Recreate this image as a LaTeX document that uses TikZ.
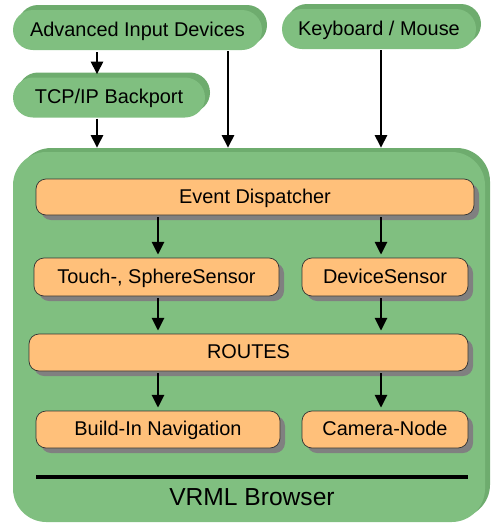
\documentclass[tikz,border=0pt]{standalone}
\usepackage{fontspec}
\setmainfont{Liberation Sans}
\usetikzlibrary{arrows.meta,shadows}
\definecolor{boxgreen}{RGB}{128,191,128}
\definecolor{backgreen}{RGB}{110,172,110}
\definecolor{boxorange}{RGB}{255,192,122}
\definecolor{shadowgray}{RGB}{128,128,128}
\newcommand\pxu{0.03cm}
\tikzset{
  inputpill/.style={fill=boxgreen, rounded corners=0.6cm, inner sep=0pt,
    font=\fontsize{17}{19}\selectfont, text depth=0.2em,
    general shadow={fill=backgreen, shadow xshift=0.15cm, shadow yshift=0.15cm}},
  browserbox/.style={fill=boxgreen, rounded corners=1cm, inner sep=0pt,
    general shadow={fill=backgreen, shadow xshift=0.15cm, shadow yshift=0.12cm}},
  stagebox/.style={draw=black!80, line width=0.6pt, fill=boxorange, rounded corners=0.3cm,
    inner sep=0pt, font=\fontsize{17}{19}\selectfont, text depth=0.2em,
    general shadow={fill=shadowgray, shadow xshift=0.15cm, shadow yshift=-0.15cm}},
  flow/.style={line width=2.2pt, -{Triangle[length=0.38cm,width=0.36cm]},
    shorten <=0.06cm, shorten >=0.09cm},
  feed/.style={line width=2.2pt, -{Triangle[length=0.38cm,width=0.36cm]},
    shorten <=0.03cm, shorten >=0.12cm}
}
\begin{document}
\begin{tikzpicture}[x=0.03cm, y=-0.03cm]
  \useasboundingbox (0,0) rectangle (492,527);

  % outer browser
  \node[browserbox, minimum width=472*\pxu, minimum height=370*\pxu] (browser) at (249,337) {};

  % input devices
  \node[inputpill, minimum width=249*\pxu, minimum height=40*\pxu] (adv) at (137.5,30) {Advanced Input Devices};
  \node[inputpill, minimum width=194*\pxu, minimum height=40*\pxu] (kbd) at (379,29) {Keyboard / Mouse};
  \node[inputpill, minimum width=192*\pxu, minimum height=40*\pxu] (tcp) at (109,97.5) {TCP/IP Backport};

  % inner stages
  \node[stagebox, minimum width=438*\pxu, minimum height=36*\pxu] (evt) at (255,197) {Event Dispatcher};
  \node[stagebox, minimum width=245*\pxu, minimum height=38*\pxu] (touch) at (156.5,277) {Touch-, SphereSensor};
  \node[stagebox, minimum width=166*\pxu, minimum height=38*\pxu] (dev) at (385,277) {DeviceSensor};
  \node[stagebox, minimum width=439*\pxu, minimum height=37*\pxu] (routes) at (248.5,352.5) {ROUTES};
  \node[stagebox, minimum width=244*\pxu, minimum height=37*\pxu] (nav) at (158,429.5) {Build-In Navigation};
  \node[stagebox, minimum width=166*\pxu, minimum height=37*\pxu] (cam) at (385,429.5) {Camera-Node};

  \draw[line width=2.6pt] (36,477) -- (468,477);
  \node[font=\fontsize{21}{24}\selectfont] (title) at (252,497) {VRML Browser};

  % arrow columns
  \coordinate (colA) at (97,0);
  \coordinate (colB) at (228,0);
  \coordinate (colC) at (381,0);
  \coordinate (colD) at (158,0);

  \draw[flow] (adv.south -| colA) -- (tcp.north -| colA);
  \draw[feed] (tcp.south -| colA) -- (browser.north -| colA);
  \draw[feed] (adv.south -| colB) -- (browser.north -| colB);
  \draw[feed] (kbd.south -| colC) -- (browser.north -| colC);

  \draw[flow] (evt.south -| colD) -- (touch.north -| colD);
  \draw[flow] (evt.south -| colC) -- (dev.north -| colC);
  \draw[flow] (touch.south -| colD) -- (routes.north -| colD);
  \draw[flow] (dev.south -| colC) -- (routes.north -| colC);
  \draw[flow] (routes.south -| colD) -- (nav.north -| colD);
  \draw[flow] (routes.south -| colC) -- (cam.north -| colC);
\end{tikzpicture}
\end{document}
